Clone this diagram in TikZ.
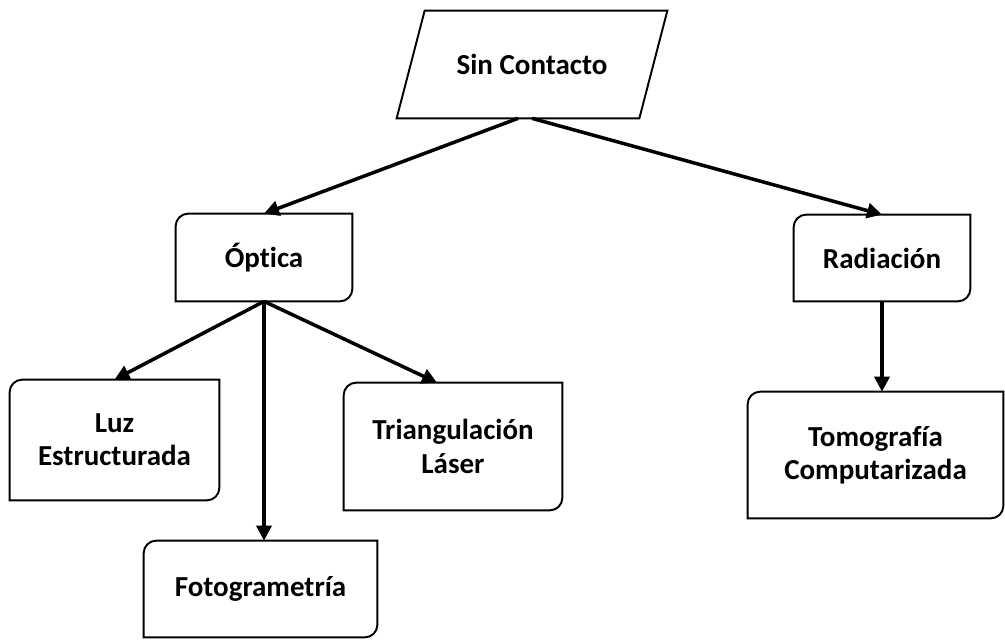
\documentclass[tikz,border=0pt]{standalone}
\usepackage{fontspec}
\setmainfont{Carlito}[Ligatures={NoCommon}]
\usetikzlibrary{calc,arrows.meta}

\tikzset{
  texto/.style={inner sep=0pt, align=center, font=\bfseries\fontsize{16.5}{19}\selectfont},
  borde/.style={line width=1.1pt},
  flecha/.style={line width=2pt, -{Triangle[length=3mm,width=3mm]}}
}

\begin{document}
\begin{tikzpicture}
    \useasboundingbox (0,0) rectangle (20.1,12.78);

    % Nodo principal (paralelogramo)
    \node[texto, minimum width=4.84cm, minimum height=2.14cm] (sc) at (10.64,11.49) {Sin Contacto};
    \draw[borde] ([xshift=0.28cm]sc.north west) -- ([xshift=0.28cm]sc.north east)
        -- ([xshift=-0.28cm]sc.south east) -- ([xshift=-0.28cm]sc.south west) -- cycle;

    % Nodos de las categorías
    \node[texto, minimum width=3.52cm, minimum height=1.74cm] (opt) at (5.28,7.63) {Óptica};
    \node[texto, minimum width=3.52cm, minimum height=1.72cm] (rad) at (17.64,7.62) {Radiación};

    % Nodos de las técnicas
    \node[texto, minimum width=4.18cm, minimum height=2.4cm] (luz) at (2.29,3.98) {Luz\\Estructurada};
    \node[texto, minimum width=4.36cm, minimum height=2.54cm] (tri) at (9.06,3.85) {Triangulación\\Láser};
    \node[texto, minimum width=4.66cm, minimum height=1.92cm] (foto) at (5.21,1.0) {Fotogrametría};
    \node[texto, minimum width=5.1cm, minimum height=2.52cm] (tomo) at (17.51,3.68) {Tomografía\\Computarizada};

    % Cajas con dos esquinas redondeadas
    \foreach \n in {opt,rad,luz,tri,foto,tomo}
        \draw[borde] (\n.south west) -- ([yshift=-0.25cm]\n.north west)
            arc[start angle=180, end angle=90, radius=0.25cm] -- (\n.north east)
            -- ([yshift=0.25cm]\n.south east)
            arc[start angle=0, end angle=-90, radius=0.25cm] -- cycle;

    % Flechas
    \draw[flecha] ([xshift=-0.28cm]sc.south) -- (opt.north);
    \draw[flecha] (sc.south) -- (rad.north);
    \draw[flecha] (opt.south) -- (luz.north);
    \draw[flecha] (opt.south) -- (opt.south |- foto.north);
    \draw[flecha] (opt.south) -- ($(tri.north)+(-0.32,0)$);
    \draw[flecha] (rad.south) -- (rad.south |- tomo.north);
\end{tikzpicture}
\end{document}
